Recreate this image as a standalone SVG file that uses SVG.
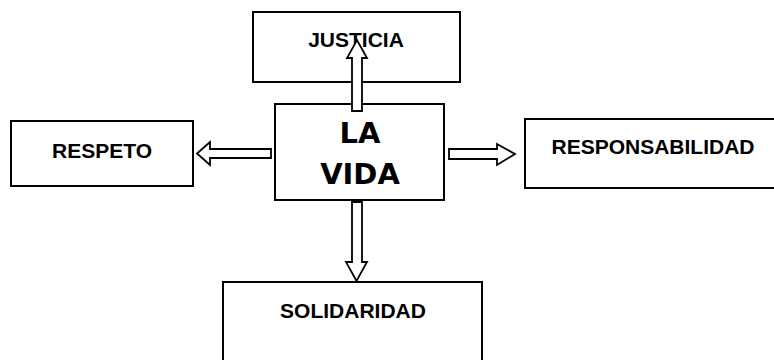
<svg xmlns="http://www.w3.org/2000/svg" width="774" height="360" viewBox="0 0 774 360">
<style>
.box{fill:#fff;stroke:#000;stroke-width:2}
.arr{fill:#fff;stroke:#000;stroke-width:1.8;stroke-linejoin:miter}
.lbl{font-family:"Liberation Sans",Arial,sans-serif;font-weight:bold;font-size:21px;fill:#000;text-anchor:middle}
.big{font-family:"DejaVu Sans",Verdana,sans-serif;font-weight:bold;font-size:29px;fill:#000;text-anchor:middle}
</style>
<rect width="774" height="360" fill="#fff"/>
<g id="justicia"><rect class="box" x="253" y="12" width="207" height="70"/><text class="lbl" x="356" y="47">JUSTICIA</text></g>
<g id="respeto"><rect class="box" x="11" y="121" width="182" height="65"/><text class="lbl" x="102" y="158">RESPETO</text></g>
<g id="responsabilidad"><rect class="box" x="525" y="119" width="260" height="69"/><text class="lbl" x="653" y="154">RESPONSABILIDAD</text></g>
<g id="solidaridad"><rect class="box" x="223" y="282" width="259" height="90"/><text class="lbl" x="353" y="318">SOLIDARIDAD</text></g>
<g id="lavida"><rect class="box" x="275" y="104" width="169" height="96"/><text class="big" x="360" y="143">LA</text><text class="big" x="360" y="184">VIDA</text></g>
<g id="connectors">
<path class="arr" d="M352,111 V58 H347 L357,40 L367,58 H362 V111 Z"/>
<path class="arr" d="M271,149 H210 V142 L197,153.5 L210,165 V158 H271 Z"/>
<path class="arr" d="M449,149 H497 V144 L515,154 L497,165 V159 H449 Z"/>
<path class="arr" d="M352,202 V262 H346 L356.5,281 L367,262 H362 V202 Z"/>
</g>
</svg>
